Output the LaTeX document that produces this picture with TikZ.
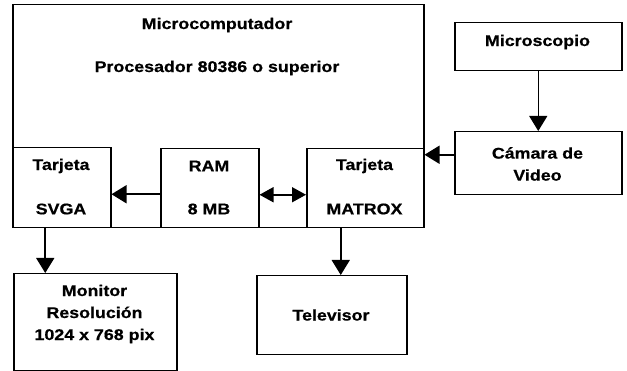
\documentclass[tikz,border=0pt]{standalone}
\usepackage{fontspec}
\setmainfont{Liberation Sans}[FakeStretch=1.15, FakeBold=0.6]
\usetikzlibrary{arrows.meta}
\begin{document}
\begin{tikzpicture}[x=1pt,y=-1pt,
  box/.style={draw, line width=1.5pt, anchor=north west, inner sep=0pt},
  txt/.style={font=\bfseries\fontsize{15.5}{22}\selectfont, align=center, inner sep=0pt},
  arr/.style={line width=1.6pt, -{Triangle[width=18pt,length=15pt]}},
  darr/.style={line width=1.6pt, {Triangle[width=15pt,length=14pt]}-{Triangle[width=15pt,length=14pt]}}]
\useasboundingbox (0,0) rectangle (627,371);

% computer enclosure and its internal boards
\node[box, minimum width=411pt, minimum height=223pt] (mc) at (12,4) {};
\node[txt] (mctitle) at (217,25) {Microcomputador};
\node[txt] (cpu) at (217,68) {Procesador 80386 o superior};

\node[box, minimum width=98pt, minimum height=80pt] (svga) at (12,147) {};
\node[txt] (svga1) at (61,166) {Tarjeta};
\node[txt] (svga2) at (61,209) {SVGA};

\node[box, minimum width=98pt, minimum height=79pt] (ram) at (160,148) {};
\node[txt] (ram1) at (209,166) {RAM};
\node[txt] (ram2) at (209,209) {8 MB};

\node[box, minimum width=117pt, minimum height=79pt] (matrox) at (306,148) {};
\node[txt] (mx1) at (364.5,166) {Tarjeta};
\node[txt] (mx2) at (364.5,209) {MATROX};

% peripherals
\node[box, minimum width=163pt, minimum height=97pt] (monitor) at (13,273) {};
\node[txt] (montxt) at (94.5,314) {Monitor\\Resolución\\1024 x 768 pix};

\node[box, minimum width=150pt, minimum height=79pt] (tv) at (256,275) {};
\node[txt] (tvtxt) at (331,315) {Televisor};

\node[box, minimum width=167pt, minimum height=48pt] (micro) at (454,22) {};
\node[txt] (microtxt) at (537.5,42) {Microscopio};

\node[box, minimum width=167pt, minimum height=63pt] (cam) at (454,131) {};
\node[txt] (camtxt) at (537.5,164) {Cámara de\\Video};

% signal paths
\draw[arr] ([yshift=-6pt]ram.west) -- ([yshift=-6pt]ram.west -| svga.east);
\draw[darr] ([yshift=-6.5pt]ram.east) -- ([yshift=-6.5pt]ram.east -| matrox.west);
\draw[arr] ([xshift=-16.5pt]svga.south) -- ([xshift=-16.5pt]svga.south |- monitor.north);
\draw[arr] ([xshift=-24.5pt]matrox.south) -- ([xshift=-24.5pt]matrox.south |- tv.north);
\draw[arr, line width=1.1pt] (micro.south) -- (cam.north);
\draw[arr] ([yshift=8.5pt]cam.west) -- ([yshift=8.5pt]cam.west -| mc.east);
\end{tikzpicture}
\end{document}
